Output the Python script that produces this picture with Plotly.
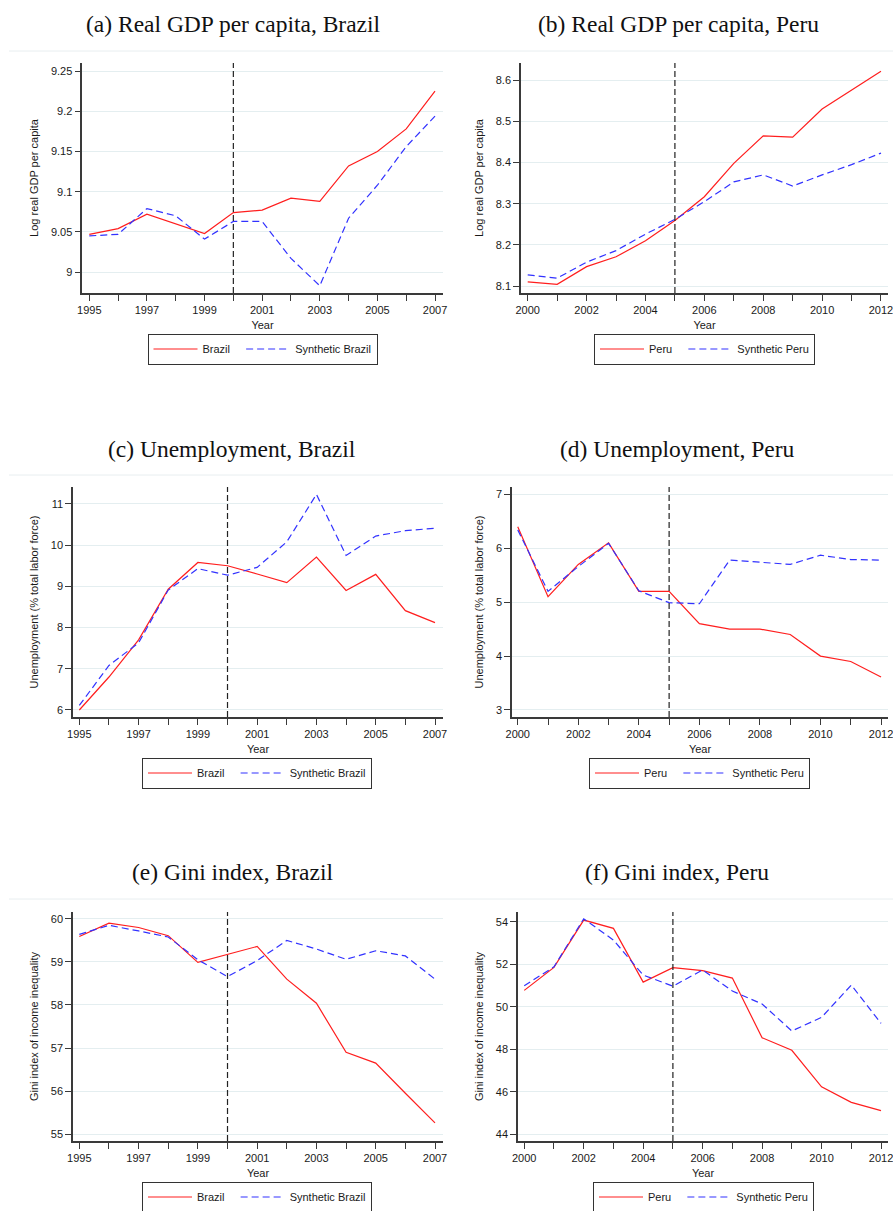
import plotly.graph_objects as go

W, H = 893, 1211

# ---- data ----
years_brazil = [1995, 1996, 1997, 1998, 1999, 2000, 2001, 2002, 2003, 2004, 2005, 2006, 2007]
years_peru = [2000, 2001, 2002, 2003, 2004, 2005, 2006, 2007, 2008, 2009, 2010, 2011, 2012]

xlabels_brazil = ["1995", "", "1997", "", "1999", "", "2001", "", "2003", "", "2005", "", "2007"]
xlabels_peru = ["2000", "", "2002", "", "2004", "", "2006", "", "2008", "", "2010", "", "2012"]

gdp_brazil = [9.047, 9.054, 9.072, 9.060, 9.048, 9.074, 9.077, 9.092, 9.088, 9.132, 9.150, 9.178, 9.225]
gdp_brazil_synth = [9.045, 9.047, 9.079, 9.070, 9.041, 9.063, 9.063, 9.017, 8.983, 9.067, 9.108, 9.156, 9.194]
gdp_peru = [8.110, 8.104, 8.147, 8.171, 8.210, 8.259, 8.317, 8.398, 8.465, 8.462, 8.530, 8.577, 8.622]
gdp_peru_synth = [8.127, 8.119, 8.158, 8.186, 8.226, 8.262, 8.305, 8.353, 8.370, 8.343, 8.370, 8.395, 8.423]

unemp_brazil = [6.00, 6.80, 7.70, 8.93, 9.58, 9.50, 9.30, 9.09, 9.71, 8.90, 9.29, 8.41, 8.12]
unemp_brazil_synth = [6.11, 7.08, 7.63, 8.91, 9.43, 9.27, 9.46, 10.08, 11.23, 9.75, 10.22, 10.35, 10.41]
unemp_peru = [6.40, 5.10, 5.70, 6.10, 5.20, 5.20, 4.60, 4.50, 4.50, 4.40, 4.00, 3.90, 3.61]
unemp_peru_synth = [6.34, 5.20, 5.66, 6.09, 5.21, 4.99, 4.97, 5.78, 5.74, 5.70, 5.87, 5.79, 5.78]

gini_brazil = [59.59, 59.90, 59.80, 59.61, 58.99, 59.18, 59.36, 58.60, 58.04, 56.90, 56.65, 55.95, 55.26]
gini_brazil_synth = [59.64, 59.85, 59.72, 59.58, 59.05, 58.66, 59.03, 59.50, 59.30, 59.06, 59.26, 59.14, 58.60]
gini_peru = [50.77, 51.85, 54.08, 53.69, 51.16, 51.84, 51.70, 51.35, 48.54, 47.95, 46.23, 45.50, 45.11]
gini_peru_synth = [50.99, 51.88, 54.14, 53.14, 51.49, 50.97, 51.73, 50.74, 50.13, 48.86, 49.50, 51.02, 49.22]

yticks_gdp_brazil = [9.0, 9.05, 9.1, 9.15, 9.2, 9.25]
ylabels_gdp_brazil = ["9", "9.05", "9.1", "9.15", "9.2", "9.25"]
yticks_gdp_peru = [8.1, 8.2, 8.3, 8.4, 8.5, 8.6]
ylabels_gdp_peru = ["8.1", "8.2", "8.3", "8.4", "8.5", "8.6"]
yticks_unemp_brazil = [6, 7, 8, 9, 10, 11]
yticks_unemp_peru = [3, 4, 5, 6, 7]
yticks_gini_brazil = [55, 56, 57, 58, 59, 60]
yticks_gini_peru = [44, 46, 48, 50, 52, 54]

# ---- panel setup (positions in pixels of the 893x1211 page) ----
panels = [
    dict(title="(a) Real GDP per capita, Brazil", years=years_brazil, xl=xlabels_brazil,
         real=gdp_brazil, synth=gdp_brazil_synth, name="Brazil", treat=2000,
         yt=yticks_gdp_brazil, yl=ylabels_gdp_brazil, ytitle="Log real GDP per capita",
         box=(82.3, 442.7, 63, 293), xr=[1994.757, 2007.267], yr=[8.974, 9.26],
         tx=233, ty=24, lx=262.5, ly=349),
    dict(title="(b) Real GDP per capita, Peru", years=years_peru, xl=xlabels_peru,
         real=gdp_peru, synth=gdp_peru_synth, name="Peru", treat=2005,
         yt=yticks_gdp_peru, yl=ylabels_gdp_peru, ytitle="Log real GDP per capita",
         box=(521, 888, 63, 293), xr=[1999.772, 2012.238], yr=[8.083, 8.642],
         tx=678, ty=24, lx=704.5, ly=349),
    dict(title="(c) Unemployment, Brazil", years=years_brazil, xl=xlabels_brazil,
         real=unemp_brazil, synth=unemp_brazil_synth, name="Brazil", treat=2000,
         yt=yticks_unemp_brazil, yl=[str(v) for v in yticks_unemp_brazil],
         ytitle="Unemployment (% total labor force)",
         box=(73, 443, 487, 717), xr=[1994.787, 2007.27], yr=[5.83, 11.41],
         tx=232, ty=449, lx=257, ly=773),
    dict(title="(d) Unemployment, Peru", years=years_peru, xl=xlabels_peru,
         real=unemp_peru, synth=unemp_peru_synth, name="Peru", treat=2005,
         yt=yticks_unemp_peru, yl=[str(v) for v in yticks_unemp_peru],
         ytitle="Unemployment (% total labor force)",
         box=(512, 888, 487, 717), xr=[1999.81, 2012.23], yr=[2.87, 7.135],
         tx=677, ty=449, lx=699.5, ly=773),
    dict(title="(e) Gini index, Brazil", years=years_brazil, xl=xlabels_brazil,
         real=gini_brazil, synth=gini_brazil_synth, name="Brazil", treat=2000,
         yt=yticks_gini_brazil, yl=[str(v) for v in yticks_gini_brazil],
         ytitle="Gini index of income inequality",
         box=(73, 443, 912, 1141), xr=[1994.787, 2007.27], yr=[54.84, 60.16],
         tx=232, ty=872, lx=257, ly=1197),
    dict(title="(f) Gini index, Peru", years=years_peru, xl=xlabels_peru,
         real=gini_peru, synth=gini_peru_synth, name="Peru", treat=2005,
         yt=yticks_gini_peru, yl=[str(v) for v in yticks_gini_peru],
         ytitle="Gini index of income inequality",
         box=(518, 888, 912, 1141), xr=[1999.79, 2012.235], yr=[43.68, 54.46],
         tx=677, ty=872, lx=703.5, ly=1197),
]

SANS = "Liberation Sans, Arial, sans-serif"
SERIF = "Liberation Serif, Times New Roman, serif"
RED = "rgb(255,30,30)"
BLUE = "rgb(50,50,255)"
AXIS = "#3a3a3a"
GRID = "#e4eef0"
TXT = "#1a1a1a"


def px_x(x):
    return x / W


def px_y(y):
    return 1 - y / H


fig = go.Figure()
layout = dict(
    width=W, height=H, margin=dict(l=0, r=0, t=0, b=0, autoexpand=False),
    paper_bgcolor="white", plot_bgcolor="white",
    font=dict(family=SANS, size=11, color=TXT),
    shapes=[], annotations=[],
)

for i, p in enumerate(panels):
    n = "" if i == 0 else str(i + 1)
    xa, ya, lg = "x" + n, "y" + n, "legend" + n
    x0, x1, y0, y1 = p["box"]

    # trailing no-break spaces widen the gap between the two legend entries
    fig.add_trace(go.Scatter(x=p["years"], y=p["real"], mode="lines", name=p["name"] + "\u00a0\u00a0",
                             line=dict(color=RED, width=1.2), xaxis=xa, yaxis=ya, legend=lg))
    fig.add_trace(go.Scatter(x=p["years"], y=p["synth"], mode="lines", name="Synthetic " + p["name"],
                             line=dict(color=BLUE, width=1.2, dash="7px,4px"),
                             xaxis=xa, yaxis=ya, legend=lg))

    layout["xaxis" + n] = dict(
        domain=[px_x(x0), px_x(x1)], anchor=ya, range=p["xr"], automargin=False,
        tickmode="array", tickvals=p["years"], ticktext=p["xl"], ticklabeloverflow="allow",
        ticks="outside", ticklen=6, tickwidth=1.2, tickcolor=AXIS,
        showline=True, linecolor=AXIS, linewidth=1.5, showgrid=False, zeroline=False,
        tickfont=dict(family=SANS, size=11, color=TXT),
        title=dict(text="Year", font=dict(family=SANS, size=11, color=TXT), standoff=6),
    )
    layout["yaxis" + n] = dict(
        domain=[px_y(y1), px_y(y0)], anchor=xa, range=p["yr"], automargin=False,
        tickmode="array", tickvals=p["yt"], ticktext=p["yl"],
        ticks="outside", ticklen=6, tickwidth=1.2, tickcolor=AXIS,
        showline=True, linecolor=AXIS, linewidth=1.5,
        showgrid=True, gridcolor=GRID, gridwidth=1, zeroline=False,
        tickfont=dict(family=SANS, size=11, color=TXT),
        title=dict(text=p["ytitle"], font=dict(family=SANS, size=11, color=TXT), standoff=10),
    )
    layout[lg] = dict(
        orientation="h", x=px_x(p["lx"]), y=px_y(p["ly"]), xanchor="center", yanchor="middle",
        bgcolor="white", bordercolor="#333", borderwidth=1, itemwidth=44,
        font=dict(family=SANS, size=11, color=TXT),
    )
    # intervention year
    layout["shapes"].append(dict(type="line", xref=xa, yref=ya + " domain", x0=p["treat"], x1=p["treat"],
                                 y0=0, y1=1, line=dict(color="#222", width=1.2, dash="6px,3px")))
    layout["annotations"].append(dict(text=p["title"], x=px_x(p["tx"]), y=px_y(p["ty"]),
                                      xref="paper", yref="paper", showarrow=False,
                                      xanchor="center", yanchor="middle",
                                      font=dict(family=SERIF, size=23.5, color="#111")))

# faint separators under the panel titles
for sy in [51, 475, 899]:
    layout["shapes"].append(dict(type="line", xref="paper", yref="paper",
                                 x0=px_x(9), x1=1, y0=px_y(sy), y1=px_y(sy),
                                 line=dict(color="#e8eef0", width=1)))

fig.update_layout(**layout)
# drop the default 8px page margin so the figure sits at the window's corner
fig.write_html("out.html", config={"displayModeBar": False},
               post_script="document.body.style.margin='0';")
